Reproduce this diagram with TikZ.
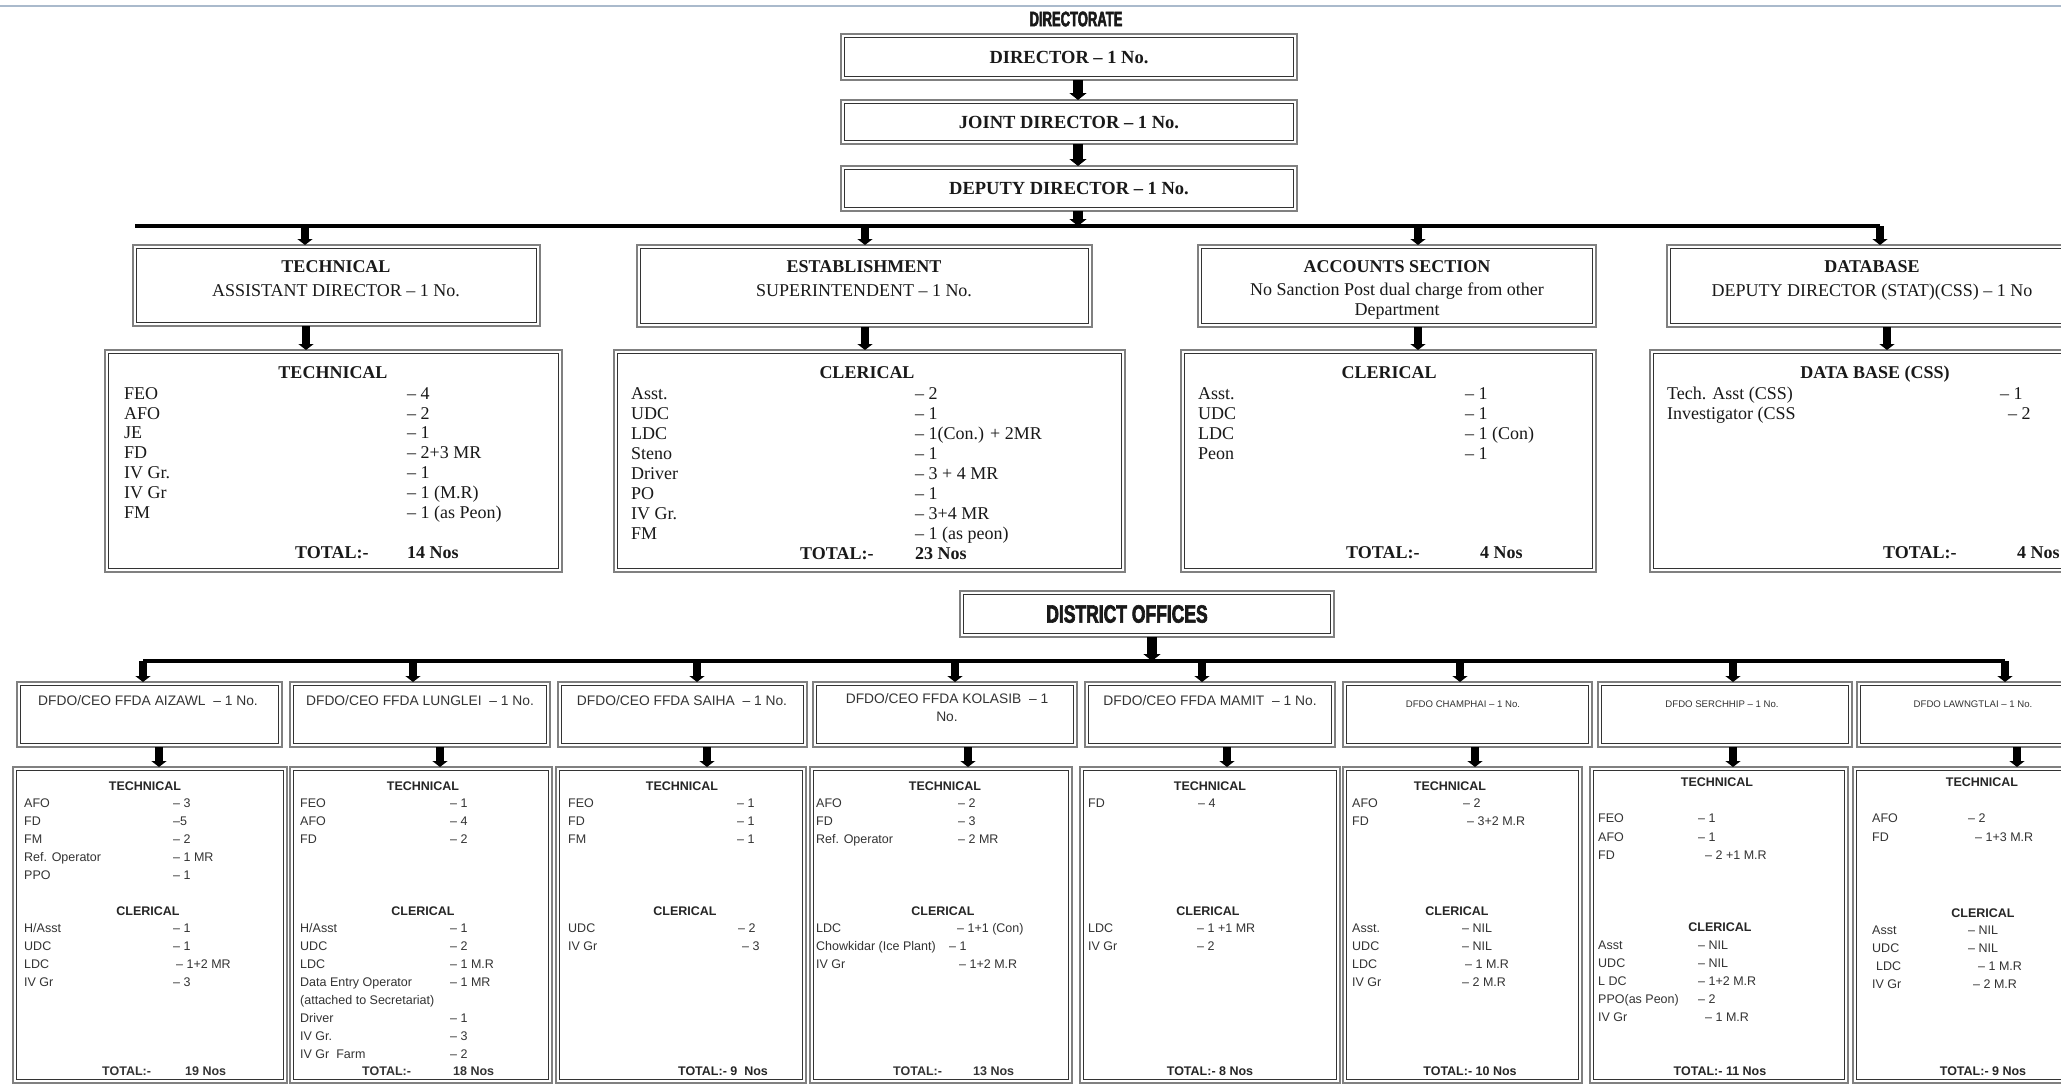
\documentclass[tikz,border=0pt]{standalone}
\usepackage{fontspec}
\setmainfont{Liberation Serif}
\setsansfont{Liberation Sans}
\newfontfamily\headfont[FakeStretch=0.7,FakeBold=2.5]{Liberation Sans}
\newfontfamily\titlefont[FakeStretch=0.62,FakeBold=2.5]{Liberation Sans}
\usetikzlibrary{arrows.meta,fit}
\definecolor{rulecol}{RGB}{170,186,204}

\tikzset{
  obox/.style={draw=black!50, line width=2.6pt, fill=white, inner sep=0pt, outer sep=0pt},
  inframe/.style={draw=black!80, line width=0.9pt},
  arr/.style={line width=8pt, -{Triangle[width=15pt,length=6pt]}},
  bigarr/.style={line width=10pt, -{Triangle[width=17pt,length=7pt]}},
  bus/.style={line width=4pt},
  stxt/.style={anchor=base west, inner sep=0pt, yshift=-6pt, font=\fontsize{18}{20}\selectfont, text=black!90},
  sbold/.style={stxt, font=\fontsize{18}{20}\selectfont\bfseries},
  shd/.style={anchor=base, inner sep=0pt, yshift=-6pt, font=\fontsize{18}{20}\selectfont\bfseries, text=black!90},
  sctr/.style={anchor=base, inner sep=0pt, yshift=-6pt, font=\fontsize{18}{20}\selectfont, text=black!90},
  dtxt/.style={anchor=base west, inner sep=0pt, yshift=-4.6pt, font=\sffamily\fontsize{12.5}{18}\selectfont, text=black!80},
  dbold/.style={dtxt, font=\sffamily\bfseries\fontsize{12.5}{18}\selectfont},
  dhd/.style={anchor=base, inner sep=0pt, yshift=-4.6pt, font=\sffamily\bfseries\fontsize{12.5}{18}\selectfont, text=black!85},
  dctr/.style={anchor=base, inner sep=0pt, yshift=-4.6pt, font=\sffamily\fontsize{12.5}{18}\selectfont, text=black!80},
  dtop/.style={dctr, font=\sffamily\fontsize{13.8}{18}\selectfont},
  dsm/.style={dctr, font=\sffamily\fontsize{9.6}{12}\selectfont},
  ttl/.style={inner sep=0pt, text=black!90},
}

% framed box: name, x1, y1, x2, y2
\newcommand{\frm}[5]{%
  \node[obox, fit={(#2,#3) (#4,#5)}] (#1) {};
  \draw[inframe] ([shift={(3.4pt,-3.4pt)}]#1.north west) rectangle ([shift={(-3.4pt,3.4pt)}]#1.south east);
}
% list rows: name, label x, value x, y, label, value
\newcommand{\srow}[6]{\node[stxt] (#1l) at (#2,#4) {#5}; \node[stxt] (#1v) at (#3,#4) {#6};}
\newcommand{\stot}[6]{\node[sbold] (#1l) at (#2,#4) {#5}; \node[sbold] (#1v) at (#3,#4) {#6};}
\newcommand{\drow}[6]{\node[dtxt] (#1l) at (#2,#4) {#5}; \node[dtxt] (#1v) at (#3,#4) {#6};}
\newcommand{\dtot}[6]{\node[dbold] (#1l) at (#2,#4) {#5}; \node[dbold] (#1v) at (#3,#4) {#6};}

\begin{document}
\begin{tikzpicture}[x=1pt, y=-1pt]
\useasboundingbox (0,0) rectangle (2061,1087);
\clip (0,0) rectangle (2061,1087);
\fill[white] (0,0) rectangle (2061,1087);
\draw[rulecol, line width=1.5pt] (0,6) -- (2061,6);

% ---------------- Directorate ----------------
\node[ttl, font=\titlefont\bfseries\fontsize{21}{22}\selectfont] (dirt) at (1076,19) {DIRECTORATE};

\frm{dir}{841}{34}{1297}{80}
\node[shd, font=\fontsize{18.5}{20}\selectfont\bfseries] (dirx) at (1069,57) {DIRECTOR – 1 No.};
\frm{jd}{841}{100}{1297}{144}
\node[shd, font=\fontsize{18.5}{20}\selectfont\bfseries] (jdx) at (1069,122) {JOINT DIRECTOR – 1 No.};
\frm{dd}{841}{166}{1297}{211}
\node[shd, font=\fontsize{18.5}{20}\selectfont\bfseries] (ddx) at (1069,188) {DEPUTY DIRECTOR – 1 No.};

% ---------------- Sections ----------------
\frm{tt}{133}{245}{540}{326}
\node[shd] (tth) at (336,266) {TECHNICAL};
\node[sctr] (tts) at (336,290) {ASSISTANT DIRECTOR – 1 No.};
\frm{tl}{105}{350}{562}{572}
\node[shd] (tlh) at (333,372) {TECHNICAL};
\srow{tr1}{124}{407}{393}{FEO}{– 4}
\srow{tr2}{124}{407}{413}{AFO}{– 2}
\srow{tr3}{124}{407}{432}{JE}{– 1}
\srow{tr4}{124}{407}{452}{FD}{– 2+3 MR}
\srow{tr5}{124}{407}{472}{IV Gr.}{– 1}
\srow{tr6}{124}{407}{492}{IV Gr}{– 1 (M.R)}
\srow{tr7}{124}{407}{512}{FM}{– 1 (as Peon)}
\stot{trt}{295}{407}{552}{TOTAL:-}{14 Nos}

\frm{et}{637}{245}{1092}{327}
\node[shd] (eth) at (864,266) {ESTABLISHMENT};
\node[sctr] (ets) at (864,290) {SUPERINTENDENT – 1 No.};
\frm{el}{614}{350}{1125}{572}
\node[shd] (elh) at (867,372) {CLERICAL};
\srow{er1}{631}{915}{393}{Asst.}{– 2}
\srow{er2}{631}{915}{413}{UDC}{– 1}
\srow{er3}{631}{915}{433}{LDC}{– 1(Con.) + 2MR}
\srow{er4}{631}{915}{453}{Steno}{– 1}
\srow{er5}{631}{915}{473}{Driver}{– 3 + 4 MR}
\srow{er6}{631}{915}{493}{PO}{– 1}
\srow{er7}{631}{915}{513}{IV Gr.}{– 3+4 MR}
\srow{er8}{631}{915}{533}{FM}{– 1 (as peon)}
\stot{ert}{800}{915}{553}{TOTAL:-}{23 Nos}

\frm{at}{1198}{245}{1596}{327}
\node[shd] (ath) at (1397,266) {ACCOUNTS SECTION};
\node[sctr] (ats1) at (1397,289) {No Sanction Post dual charge from other};
\node[sctr] (ats2) at (1397,309) {Department};
\frm{al}{1181}{350}{1596}{572}
\node[shd] (alh) at (1389,372) {CLERICAL};
\srow{ar1}{1198}{1465}{393}{Asst.}{– 1}
\srow{ar2}{1198}{1465}{413}{UDC}{– 1}
\srow{ar3}{1198}{1465}{433}{LDC}{– 1 (Con)}
\srow{ar4}{1198}{1465}{453}{Peon}{– 1}
\stot{art}{1346}{1480}{552}{TOTAL:-}{4 Nos}

\frm{dbt}{1667}{245}{2080}{327}
\node[shd] (dbth) at (1872,266) {DATABASE};
\node[sctr] (dbts) at (1872,290) {DEPUTY DIRECTOR (STAT)(CSS) – 1 No};
\frm{dbl}{1650}{350}{2100}{572}
\node[shd] (dblh) at (1875,372) {DATA BASE (CSS)};
\srow{dr1}{1667}{2000}{393}{Tech. Asst (CSS)}{– 1}
\srow{dr2}{1667}{2008}{413}{Investigator (CSS}{– 2}
\stot{drt}{1883}{2017}{552}{TOTAL:-}{4 Nos}

% connectors of the directorate
\coordinate (ax) at (1078,0);
\draw[bigarr] (dir.south -| ax) -- (jd.north -| ax);
\draw[bigarr] (jd.south -| ax) -- (dd.north -| ax);
\coordinate (b0) at (1078,226);
\coordinate (bL) at (135,226);
\coordinate (b1) at (305,226);
\coordinate (b2) at (865,226);
\coordinate (b3) at (1418,226);
\coordinate (b4) at (1880,226);
\draw[bus] (bL) -- (b4);
\draw[bigarr] (dd.south -| ax) -- (b0);
\draw[arr] (b1) -- (b1 |- tt.north);
\draw[arr] (b2) -- (b2 |- et.north);
\draw[arr] (b3) -- (b3 |- at.north);
\draw[arr] (b4) -- (b4 |- dbt.north);
\coordinate (g1) at (306,0);
\coordinate (g2) at (865,0);
\coordinate (g3) at (1418,0);
\coordinate (g4) at (1887,0);
\draw[arr] (tt.south -| g1) -- (tl.north -| g1);
\draw[arr] (et.south -| g2) -- (el.north -| g2);
\draw[arr] (at.south -| g3) -- (al.north -| g3);
\draw[arr] (dbt.south -| g4) -- (dbl.north -| g4);

% ---------------- District offices ----------------
\frm{dist}{960}{591}{1334}{637}
\node[ttl, font=\headfont\bfseries\fontsize{25}{26}\selectfont] (distx) at (1127,614) {DISTRICT OFFICES};

\frm{d1}{17}{682}{282}{747}
\frm{d2}{290}{682}{550}{747}
\frm{d3}{558}{682}{807}{747}
\frm{d4}{813}{682}{1077}{747}
\frm{d5}{1085}{682}{1335}{747}
\frm{d6}{1343}{682}{1592}{747}
\frm{d7}{1598}{682}{1852}{747}
\frm{d8}{1857}{682}{2090}{747}
\node[dtop] (d1x) at (148,701) {DFDO/CEO FFDA AIZAWL \ – 1 No.};
\node[dtop] (d2x) at (420,701) {DFDO/CEO FFDA LUNGLEI \ – 1 No.};
\node[dtop] (d3x) at (682,701) {DFDO/CEO FFDA SAIHA \ – 1 No.};
\node[dtop] (d4x) at (947,699) {DFDO/CEO FFDA KOLASIB \ – 1};
\node[dtop] (d4y) at (947,717) {No.};
\node[dtop] (d5x) at (1210,701) {DFDO/CEO FFDA MAMIT \ – 1 No.};
\node[dsm] (d6x) at (1463,703) {DFDO CHAMPHAI – 1 No.};
\node[dsm] (d7x) at (1722,703) {DFDO SERCHHIP – 1 No.};
\node[dsm] (d8x) at (1973,703) {DFDO LAWNGTLAI – 1 No.};

\frm{e1}{13}{767}{287}{1083}
\frm{e2}{290}{767}{552}{1083}
\frm{e3}{556}{767}{806}{1083}
\frm{e4}{810}{767}{1072}{1083}
\frm{e5}{1080}{767}{1340}{1083}
\frm{e6}{1343}{767}{1582}{1083}
\frm{e7}{1590}{767}{1848}{1083}
\frm{e8}{1853}{767}{2100}{1083}

% Aizawl
\node[dhd] (e1a) at (145,786) {TECHNICAL};
\drow{a1}{24}{173}{803}{AFO}{– 3}
\drow{a2}{24}{173}{821}{FD}{–5}
\drow{a3}{24}{173}{839}{FM}{– 2}
\drow{a4}{24}{173}{857}{Ref. Operator}{– 1 MR}
\drow{a5}{24}{173}{875}{PPO}{– 1}
\node[dhd] (e1b) at (148,911) {CLERICAL};
\drow{a6}{24}{173}{928}{H/Asst}{– 1}
\drow{a7}{24}{173}{946}{UDC}{– 1}
\drow{a8}{24}{176}{964}{LDC}{– 1+2 MR}
\drow{a9}{24}{173}{982}{IV Gr}{– 3}
\dtot{at9}{102}{185}{1071}{TOTAL:-}{19 Nos}

% Lunglei
\node[dhd] (e2a) at (423,786) {TECHNICAL};
\drow{l1}{300}{450}{803}{FEO}{– 1}
\drow{l2}{300}{450}{821}{AFO}{– 4}
\drow{l3}{300}{450}{839}{FD}{– 2}
\node[dhd] (e2b) at (423,911) {CLERICAL};
\drow{l4}{300}{450}{928}{H/Asst}{– 1}
\drow{l5}{300}{450}{946}{UDC}{– 2}
\drow{l6}{300}{450}{964}{LDC}{– 1 M.R}
\drow{l7}{300}{450}{982}{Data Entry Operator}{– 1 MR}
\node[dtxt] (l8) at (300,1000) {(attached to Secretariat)};
\drow{l9}{300}{450}{1018}{Driver}{– 1}
\drow{l10}{300}{450}{1036}{IV Gr.}{– 3}
\drow{l11}{300}{450}{1054}{IV Gr \ Farm}{– 2}
\dtot{lt}{362}{453}{1071}{TOTAL:-}{18 Nos}

% Saiha
\node[dhd] (e3a) at (682,786) {TECHNICAL};
\drow{s1}{568}{737}{803}{FEO}{– 1}
\drow{s2}{568}{737}{821}{FD}{– 1}
\drow{s3}{568}{737}{839}{FM}{– 1}
\node[dhd] (e3b) at (685,911) {CLERICAL};
\drow{s4}{568}{738}{928}{UDC}{– 2}
\drow{s5}{568}{742}{946}{IV Gr}{– 3}
\node[dhd] (st) at (723,1071) {TOTAL:- 9 \ Nos};

% Kolasib
\node[dhd] (e4a) at (945,786) {TECHNICAL};
\drow{k1}{816}{958}{803}{AFO}{– 2}
\drow{k2}{816}{958}{821}{FD}{– 3}
\drow{k3}{816}{958}{839}{Ref. Operator}{– 2 MR}
\node[dhd] (e4b) at (943,911) {CLERICAL};
\drow{k4}{816}{957}{928}{LDC}{– 1+1 (Con)}
\drow{k5}{816}{949}{946}{Chowkidar (Ice Plant)}{– 1}
\drow{k6}{816}{959}{964}{IV Gr}{– 1+2 M.R}
\dtot{kt}{893}{973}{1071}{TOTAL:-}{13 Nos}

% Mamit
\node[dhd] (e5a) at (1210,786) {TECHNICAL};
\drow{m1}{1088}{1198}{803}{FD}{– 4}
\node[dhd] (e5b) at (1208,911) {CLERICAL};
\drow{m2}{1088}{1197}{928}{LDC}{– 1 +1 MR}
\drow{m3}{1088}{1197}{946}{IV Gr}{– 2}
\node[dhd] (mt) at (1210,1071) {TOTAL:- 8 Nos};

% Champhai
\node[dhd] (e6a) at (1450,786) {TECHNICAL};
\drow{c1r}{1352}{1463}{803}{AFO}{– 2}
\drow{c2r}{1352}{1467}{821}{FD}{– 3+2 M.R}
\node[dhd] (e6b) at (1457,911) {CLERICAL};
\drow{c3r}{1352}{1462}{928}{Asst.}{– NIL}
\drow{c4r}{1352}{1462}{946}{UDC}{– NIL}
\drow{c5r}{1352}{1465}{964}{LDC}{– 1 M.R}
\drow{c6r}{1352}{1462}{982}{IV Gr}{– 2 M.R}
\node[dhd] (ct) at (1470,1071) {TOTAL:- 10 Nos};

% Serchhip
\node[dhd] (e7a) at (1717,782) {TECHNICAL};
\drow{h1}{1598}{1698}{818}{FEO}{– 1}
\drow{h2}{1598}{1698}{837}{AFO}{– 1}
\drow{h3}{1598}{1705}{855}{FD}{– 2 +1 M.R}
\node[dhd] (e7b) at (1720,927) {CLERICAL};
\drow{h4}{1598}{1698}{945}{Asst}{– NIL}
\drow{h5}{1598}{1698}{963}{UDC}{– NIL}
\drow{h6}{1598}{1698}{981}{L DC}{– 1+2 M.R}
\drow{h7}{1598}{1698}{999}{PPO(as Peon)}{– 2}
\drow{h8}{1598}{1705}{1017}{IV Gr}{– 1 M.R}
\node[dhd] (ht) at (1720,1071) {TOTAL:- 11 Nos};

% Lawngtlai
\node[dhd] (e8a) at (1982,782) {TECHNICAL};
\drow{w1}{1872}{1968}{818}{AFO}{– 2}
\drow{w2}{1872}{1975}{837}{FD}{– 1+3 M.R}
\node[dhd] (e8b) at (1983,913) {CLERICAL};
\drow{w3}{1872}{1968}{930}{Asst}{– NIL}
\drow{w4}{1872}{1968}{948}{UDC}{– NIL}
\drow{w5}{1876}{1978}{966}{LDC}{– 1 M.R}
\drow{w6}{1872}{1973}{984}{IV Gr}{– 2 M.R}
\node[dhd] (wt) at (1983,1071) {TOTAL:- 9 Nos};

% connectors of the district offices
\coordinate (c0) at (1152,661);
\coordinate (c1) at (143,661);
\coordinate (c2) at (413,661);
\coordinate (c3) at (697,661);
\coordinate (c4) at (955,661);
\coordinate (c5) at (1202,661);
\coordinate (c6) at (1460,661);
\coordinate (c7) at (1733,661);
\coordinate (c8) at (2005,661);
\draw[bus] (c1) -- (c8);
\draw[bigarr] (dist.south -| c0) -- (c0);
\foreach \i in {1,...,8} {\draw[arr] (c\i) -- (c\i |- d\i.north);}
\coordinate (f1) at (159,0);
\coordinate (f2) at (440,0);
\coordinate (f3) at (707,0);
\coordinate (f4) at (968,0);
\coordinate (f5) at (1227,0);
\coordinate (f6) at (1475,0);
\coordinate (f7) at (1733,0);
\coordinate (f8) at (2017,0);
\foreach \i in {1,...,8} {\draw[arr] (d\i.south -| f\i) -- (e\i.north -| f\i);}
\end{tikzpicture}
\end{document}
